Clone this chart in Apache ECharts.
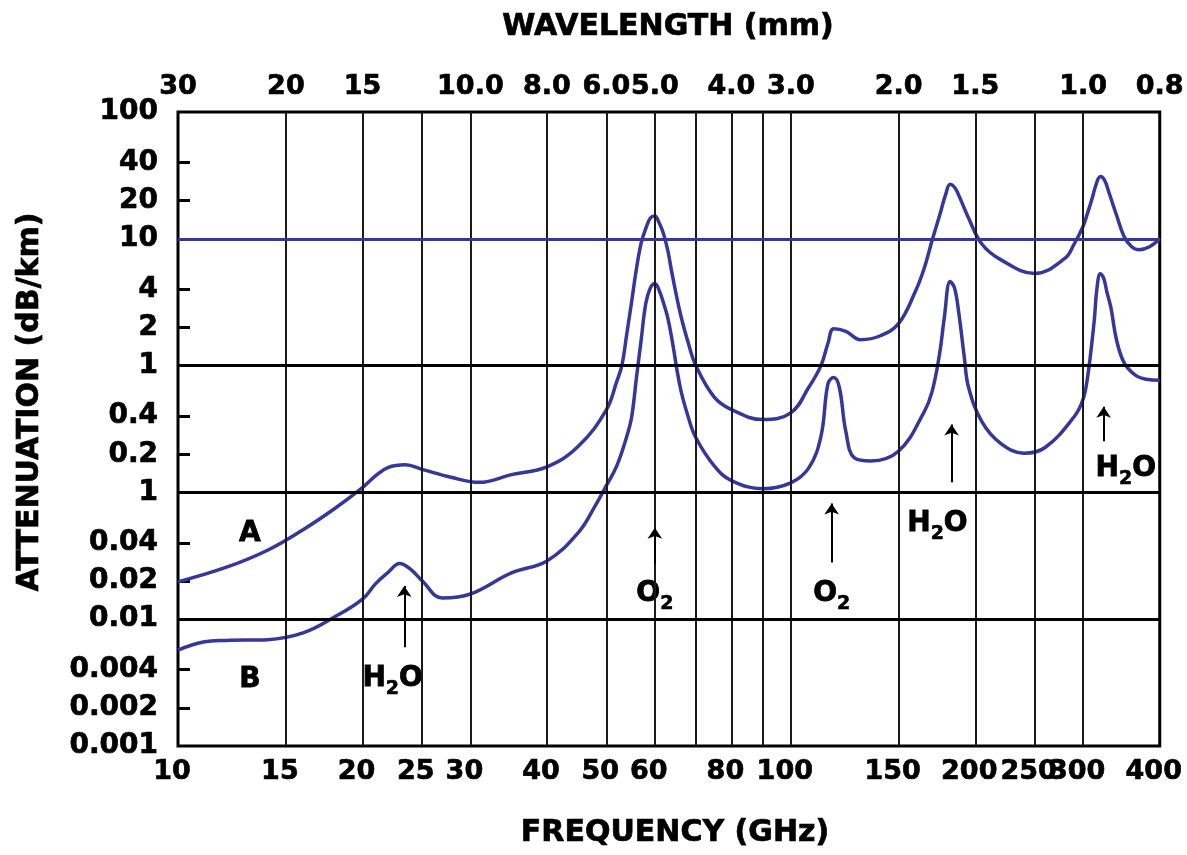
<!DOCTYPE html>
<html><head><meta charset="utf-8">
<script src="https://cdn.jsdelivr.net/npm/echarts@6/dist/echarts.min.js"></script>
<style>html,body{margin:0;padding:0;background:#fff}#c{width:1187px;height:855px}</style>
</head><body><div id="c"></div>
<script>
// ---- data (frequency in GHz, attenuation in dB/km) ----
const freqA = [10, 12, 14, 16, 18, 20, 21, 22, 23.5, 25, 28, 31, 35, 40, 45, 50, 52, 53, 54, 55, 56, 57, 58, 59, 60, 61, 62, 63, 64, 66, 68, 70, 75, 80, 90, 100, 107, 112, 115, 117.5, 123, 130, 140, 150, 160, 165, 170, 175, 179, 182, 185, 188, 195, 205, 220, 250, 280, 290, 300, 305, 310, 315, 320, 325, 330, 340, 350, 360, 370, 385, 400];
const attA = [0.0197, 0.0257, 0.035, 0.0508, 0.0743, 0.109, 0.135, 0.157, 0.165, 0.152, 0.131, 0.12, 0.138, 0.159, 0.231, 0.448, 0.75, 1.0, 1.78, 3.22, 5.83, 9.3, 12.1, 14.6, 15.1, 13.3, 10.9, 8.06, 5.33, 2.6, 1.52, 1.0, 0.565, 0.45, 0.375, 0.424, 0.675, 1.0, 1.5, 1.95, 1.86, 1.6, 1.72, 2.15, 3.93, 5.8, 9.65, 15.4, 22.5, 26.9, 25.5, 22, 14.6, 9.1, 6.85, 5.33, 7.0, 9.1, 12.6, 16, 20.5, 26.9, 31, 29.1, 23.7, 15.4, 10.4, 8.66, 8.2, 8.66, 10];
const freqB = [10, 11, 12, 14, 16, 18, 20, 21, 22, 23, 24, 25, 27, 30, 35, 40, 45, 48, 50, 52, 54, 55, 56, 57, 58, 59, 60, 61, 62, 63, 64, 66, 68, 70, 75, 80, 90, 100, 107, 112, 115, 117.5, 120, 123, 127, 135, 150, 165, 170, 175, 178, 182, 185, 188, 192, 195, 205, 220, 240, 260, 290, 300, 305, 310, 313, 316, 320, 324, 328, 333, 340, 350, 365, 380, 400];
const attB = [0.0057, 0.0066, 0.0068, 0.0069, 0.0078, 0.0104, 0.0144, 0.019, 0.0233, 0.0275, 0.0246, 0.0202, 0.0147, 0.0158, 0.0232, 0.0288, 0.0482, 0.079, 0.113, 0.162, 0.277, 0.395, 0.81, 1.6, 3.1, 4.1, 4.45, 3.9, 3.1, 2.37, 1.6, 0.675, 0.395, 0.27, 0.162, 0.124, 0.107, 0.119, 0.156, 0.277, 0.72, 0.807, 0.675, 0.3, 0.187, 0.177, 0.212, 0.43, 0.62, 1.26, 2.37, 4.6, 4.1, 2.6, 1.15, 0.675, 0.362, 0.244, 0.204, 0.226, 0.395, 0.545, 0.81, 1.52, 2.37, 4.1, 5.3, 4.9, 3.8, 2.85, 1.6, 1.05, 0.84, 0.78, 0.765];

// ---- axes / ticks ----
const freqTicks = [10, 15, 20, 25, 30, 40, 50, 60, 80, 100, 150, 200, 250, 300, 400];
const freqTickLabels = ['10', '15', '20', '25', '30', '40', '50', '60', '80', '100', '150', '200', '250', '300', '400'];
const gridFreqs = [15, 20, 25, 30, 40, 50, 60, 70, 80, 90, 100, 150, 200, 250, 300];
const wavelengthTickFreqs = [10, 15, 20, 30, 40, 50, 60, 80, 100, 150, 200, 300, 400];
const wavelengthLabels = ['30', '20', '15', '10.0', '8.0', '6.0', '5.0', '4.0', '3.0', '2.0', '1.5', '1.0', '0.8'];
const attTicks = [100, 40, 20, 10, 4, 2, 1, 0.4, 0.2, 0.1, 0.04, 0.02, 0.01, 0.004, 0.002, 0.001];
const attTickLabels = ['100', '40', '20', '10', '4', '2', '1', '0.4', '0.2', '1', '0.04', '0.02', '0.01', '0.004', '0.002', '0.001'];
const attMinorTicks = [40, 20, 4, 2, 0.4, 0.2, 0.04, 0.02, 0.004, 0.002];
const decadeLines = [1, 0.1, 0.01];
const blueLines = [10];

// ---- annotations ----
const noteTexts = ['A', 'B', 'H2O', 'O2', 'O2', 'H2O', 'H2O'];
const noteFreqs = [13.1, 13.1, 22.4, 60, 116.6, 173.5, 352];
const noteValues = [0.05, 0.0035, 0.0036, 0.0167, 0.0167, 0.06, 0.162];
const arrowFreqs = [23.4, 60, 116.6, 183, 324];
const arrowTails = [0.006, 0.0273, 0.028, 0.12, 0.253];
const arrowHeads = [0.0183, 0.0527, 0.0818, 0.343, 0.473];

const BLUE = '#35379a';
const FONT = 'DejaVu Sans';
const lg = Math.log10;

function lookup(vals, labels) {
  return function (v) {
    for (let i = 0; i < vals.length; i++) if (Math.abs(lg(vals[i]) - v) < 1e-6) return labels[i];
    return '';
  };
}
function richNote(t) {
  return t.split('').map(ch => /\d/.test(ch) ? '{s|' + ch + '}' : '{n|' + ch + '}').join('');
}
function labelStyle(size) {
  return { fontFamily: FONT, fontWeight: 'bold', fontSize: size, color: '#000', textBorderColor: '#000', textBorderWidth: 0.7 };
}
const titleStyle = { font: 'bold 30px "DejaVu Sans"', fill: '#000', stroke: '#000', lineWidth: 0.7, align: 'center', verticalAlign: 'middle' };

const chart = echarts.init(document.getElementById('c'), null, { renderer: 'canvas' });
chart.setOption({
  animation: false,
  backgroundColor: '#fff',
  grid: { left: 178, right: 24, top: 112, bottom: 109, show: true, borderColor: '#000', borderWidth: 3, backgroundColor: 'transparent' },
  xAxis: [
    { type: 'log', min: 10, max: 400, logBase: 10, axisLine: { show: false }, axisTick: { show: false }, axisLabel: { show: false }, splitLine: { show: false } },
    { type: 'value', position: 'bottom', min: 1, max: lg(400), axisLine: { show: false }, axisTick: { show: false }, splitLine: { show: false },
      axisLabel: Object.assign({ customValues: freqTicks.map(lg), formatter: lookup(freqTicks, freqTickLabels), margin: 12, padding: [0, 12, 0, 0] }, labelStyle(27)) },
    { type: 'value', position: 'top', min: 1, max: lg(400), axisLine: { show: false }, axisTick: { show: false }, splitLine: { show: false },
      axisLabel: Object.assign({ customValues: wavelengthTickFreqs.map(lg), formatter: lookup(wavelengthTickFreqs, wavelengthLabels), margin: 12 }, labelStyle(27)) }
  ],
  yAxis: [
    { type: 'log', min: 0.001, max: 100, logBase: 10, axisLine: { show: false }, axisTick: { show: false }, axisLabel: { show: false }, splitLine: { show: false } },
    { type: 'value', position: 'left', min: -3, max: 2, axisLine: { show: false }, splitLine: { show: false },
      axisTick: { show: true, inside: true, length: 12, customValues: attMinorTicks.map(lg), lineStyle: { color: '#000', width: 3 } },
      axisLabel: Object.assign({ customValues: attTicks.map(lg), formatter: lookup(attTicks, attTickLabels), margin: 20 }, labelStyle(28)) }
  ],
  graphic: [
    { type: 'text', x: 668, y: 27, style: Object.assign({ text: 'WAVELENGTH (mm)' }, titleStyle) },
    { type: 'text', x: 675, y: 833, style: Object.assign({ text: 'FREQUENCY (GHz)' }, titleStyle) },
    { type: 'text', x: 30, y: 402, rotation: Math.PI / 2, style: Object.assign({ text: 'ATTENUATION (dB/km)' }, titleStyle) }
  ],
  series: [
    { name: 'grid', type: 'line', xAxisIndex: 0, yAxisIndex: 0, data: [], z: 1, silent: true,
      markLine: { silent: true, symbol: ['none', 'none'], label: { show: false }, animation: false,
        data: gridFreqs.map(f => ({ xAxis: f, lineStyle: { color: '#1a1a1a', width: 2, type: 'solid' } }))
          .concat(decadeLines.map(v => ({ yAxis: v, lineStyle: { color: '#000', width: 3, type: 'solid' } })))
          .concat(blueLines.map(v => ({ yAxis: v, lineStyle: { color: BLUE, width: 3, type: 'solid' } })))
      } },
    { name: 'notes', type: 'scatter', xAxisIndex: 0, yAxisIndex: 0, z: 2, silent: true, symbolSize: 1,
      itemStyle: { color: 'rgba(0,0,0,0)', opacity: 1 },
      data: noteFreqs.map((f, i) => [f, noteValues[i], noteTexts[i]]),
      label: { show: true, position: 'inside', offset: [0, 6], color: '#000', backgroundColor: '#fff', padding: [0, 2, 0, 2],
        formatter: p => richNote(p.data[2]),
        rich: {
          n: { fontFamily: FONT, fontWeight: 'bold', fontSize: 28, color: '#000', textBorderColor: '#000', textBorderWidth: 0.8, lineHeight: 34, verticalAlign: 'top' },
          s: { fontFamily: FONT, fontWeight: 'bold', fontSize: 19, color: '#000', textBorderColor: '#000', textBorderWidth: 0.6, lineHeight: 14, verticalAlign: 'bottom' }
        } } },
    { name: 'A', type: 'line', xAxisIndex: 0, yAxisIndex: 0, z: 3, smooth: 0.4, showSymbol: false,
      data: freqA.map((f, i) => [f, attA[i]]), lineStyle: { color: BLUE, width: 3.5 } },
    { name: 'B', type: 'line', xAxisIndex: 0, yAxisIndex: 0, z: 3, smooth: 0.4, showSymbol: false,
      data: freqB.map((f, i) => [f, attB[i]]), lineStyle: { color: BLUE, width: 3.5 } },
    { name: 'arrowLines', type: 'line', xAxisIndex: 0, yAxisIndex: 0, data: [], z: 5, silent: true,
      markLine: { silent: true, symbol: ['none', 'arrow'], symbolSize: 11, label: { show: false }, animation: false,
        lineStyle: { color: '#000', width: 2, type: 'solid' }, itemStyle: { color: '#000' },
        data: arrowFreqs.map((f, i) => [{ coord: [f, arrowTails[i]] }, { coord: [f, arrowHeads[i]] }]) } }
  ]
});
</script></body></html>
